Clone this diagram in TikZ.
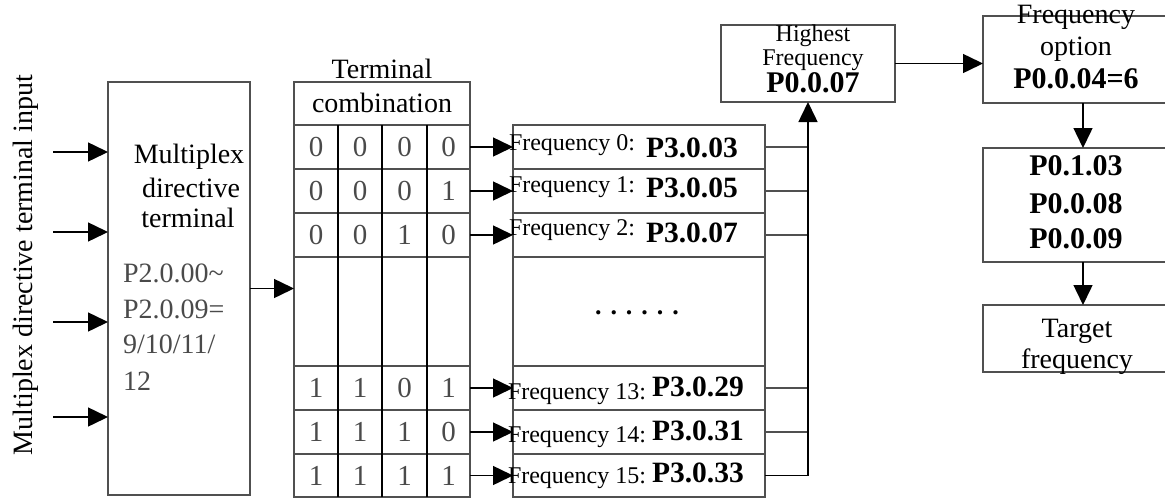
\documentclass[tikz,border=0pt]{standalone}
\usepackage{fontspec}
\setmainfont{Liberation Serif}
\usetikzlibrary{arrows.meta}
\definecolor{bord}{HTML}{505050}
\definecolor{greytxt}{HTML}{4A4A4A}
\tikzset{
  box/.style={draw=bord, line width=1.9pt, inner sep=0pt, outer sep=0pt, rectangle},
  colline/.style={draw=black, line width=1.2pt},
  arr/.style={draw=black, line width=1.5pt, -{Triangle[length=20pt,width=19pt]}},
  ln/.style={draw=bord, line width=1.6pt},
  txt/.style={inner sep=0pt, outer sep=0pt, anchor=base, font=\fontsize{28}{28}\selectfont},
  gtxt/.style={inner sep=0pt, outer sep=0pt, anchor=base west, text=greytxt, font=\fontsize{28}{28}\selectfont},
  dig/.style={inner sep=0pt, outer sep=0pt, anchor=center, text=greytxt, font=\fontsize{29}{29}\selectfont},
  flbl/.style={inner sep=0pt, outer sep=0pt, anchor=base west, font=\fontsize{24}{24}\selectfont},
  fbold/.style={inner sep=0pt, outer sep=0pt, anchor=base west, font=\fontsize{29.5}{29.5}\selectfont\bfseries},
  btxt/.style={inner sep=0pt, outer sep=0pt, anchor=base, font=\fontsize{30}{30}\selectfont\bfseries},
}
\begin{document}
\begin{tikzpicture}[x=1pt,y=-1pt]
\useasboundingbox (0,0) rectangle (1165,498);
% left label
\node[txt, rotate=90, font=\fontsize{28}{28}\selectfont] (inlbl) at (32,265) {Multiplex directive terminal input};
% multiplex box
\node[box, minimum width=142pt, minimum height=413pt] (mux) at (179,288.5) {};
\node[txt] (m1) at (189,163) {Multiplex};
\node[txt] (m2) at (191,197) {directive};
\node[txt] (m3) at (188,227) {terminal};
\node[gtxt] (g1) at (123,282) {P2.0.00\textasciitilde};
\node[gtxt] (g2) at (123,318) {P2.0.09=};
\node[gtxt] (g3) at (123,353) {9/10/11/};
\node[gtxt] (g4) at (123,390) {12};
% inputs
\coordinate (in1) at (53,152);
\coordinate (in2) at (53,232);
\coordinate (in3) at (53,322);
\coordinate (in4) at (53,417);
\foreach \i in {1,...,4} \draw[arr] (in\i) -- (in\i -| mux.west);
% terminal combination table
\node[box, minimum width=176pt, minimum height=43pt] (head) at (382,103.5) {};
\node[txt] (h1) at (382,78) {Terminal};
\node[txt] (h2) at (382,112) {combination};
\node[box, minimum width=176pt, minimum height=44pt] (r0) at (382,147) {};
\node[box, minimum width=176pt, minimum height=44pt] (r1) at (382,191) {};
\node[box, minimum width=176pt, minimum height=44pt] (r2) at (382,235) {};
\node[box, minimum width=176pt, minimum height=109pt] (rg) at (382,311.5) {};
\node[box, minimum width=176pt, minimum height=44pt] (r13) at (382,388) {};
\node[box, minimum width=176pt, minimum height=44pt] (r14) at (382,432) {};
\node[box, minimum width=176pt, minimum height=43pt] (r15) at (382,475.5) {};
\foreach \x in {338,382,427} \draw[colline] (\x,125) -- (\x,497);
% digits
\foreach \r/\y/\a/\b/\c/\d in {0/147/0/0/0/0, 1/191/0/0/0/1, 2/235/0/0/1/0, 13/388/1/1/0/1, 14/432/1/1/1/0, 15/475.5/1/1/1/1}{
  \node[dig] (d\r a) at (316,\y) {\a};
  \node[dig] (d\r b) at (360,\y) {\b};
  \node[dig] (d\r c) at (404.5,\y) {\c};
  \node[dig] (d\r d) at (448.5,\y) {\d};
}
\draw[arr] (mux.east) -- (mux.east -| rg.west);
% frequency list
\node[box, minimum width=252pt, minimum height=44pt] (f0) at (639,147) {};
\node[box, minimum width=252pt, minimum height=44pt] (f1) at (639,191) {};
\node[box, minimum width=252pt, minimum height=44pt] (f2) at (639,235) {};
\node[box, minimum width=252pt, minimum height=109pt] (fg) at (639,311.5) {};
\node[box, minimum width=252pt, minimum height=44pt] (f13) at (639,388) {};
\node[box, minimum width=252pt, minimum height=44pt] (f14) at (639,432) {};
\node[box, minimum width=252pt, minimum height=43pt] (f15) at (639,475.5) {};
\node[flbl] (l0) at (509,150) {Frequency 0:};
\node[fbold] (p0) at (646,157) {P3.0.03};
\node[flbl] (l1) at (509,192) {Frequency 1:};
\node[fbold] (p1) at (646,197) {P3.0.05};
\node[flbl] (l2) at (509,235) {Frequency 2:};
\node[fbold] (p2) at (646,242) {P3.0.07};
\node[flbl] (l13) at (508,399) {Frequency 13:};
\node[fbold] (p13) at (652,396) {P3.0.29};
\node[flbl] (l14) at (508,442) {Frequency 14:};
\node[fbold] (p14) at (652,440) {P3.0.31};
\node[flbl] (l15) at (508,483) {Frequency 15:};
\node[fbold] (p15) at (652,482) {P3.0.33};
\node[txt, font=\fontsize{26}{26}\selectfont\bfseries] (dots) at (637,314) {.\hspace{9pt}.\hspace{9pt}.\hspace{9pt}.\hspace{9pt}.\hspace{9pt}.};
\foreach \r in {0,1,2,13,14,15} \draw[arr] (r\r.east) -- (f\r.west);
% highest frequency
\node[box, minimum width=174pt, minimum height=77pt] (high) at (808,63.5) {};
\node[txt, font=\fontsize{24}{24}\selectfont] (hh1) at (813,41) {Highest};
\node[txt, font=\fontsize{24}{24}\selectfont] (hh2) at (813,65) {Frequency};
\node[btxt] (hh3) at (813,92) {P0.0.07};
\foreach \r in {0,1,2,13,14} \draw[ln] (f\r.east) -- (f\r.east -| high.south);
\draw[arr] (f15.east) -| (high.south);
% frequency option
\node[box, minimum width=200pt, minimum height=87pt] (opt) at (1083,59.5) {};
\node[txt] (o1) at (1076,23) {Frequency};
\node[txt] (o2) at (1076,55) {option};
\node[btxt] (o3) at (1076,88) {P0.0.04=6};
\draw[arr] (high.east) -- (high.east -| opt.west);
% parameters
\node[box, minimum width=200pt, minimum height=114pt] (par) at (1083,205) {};
\node[btxt] (q1) at (1076,175) {P0.1.03};
\node[btxt] (q2) at (1076,213) {P0.0.08};
\node[btxt] (q3) at (1076,248) {P0.0.09};
\draw[arr] (opt.south) -- (par.north);
% target
\node[box, minimum width=200pt, minimum height=67pt] (tgt) at (1083,338.5) {};
\node[txt] (t1) at (1077,337) {Target};
\node[txt] (t2) at (1077,368) {frequency};
\draw[arr] (par.south) -- (tgt.north);
\end{tikzpicture}
\end{document}
